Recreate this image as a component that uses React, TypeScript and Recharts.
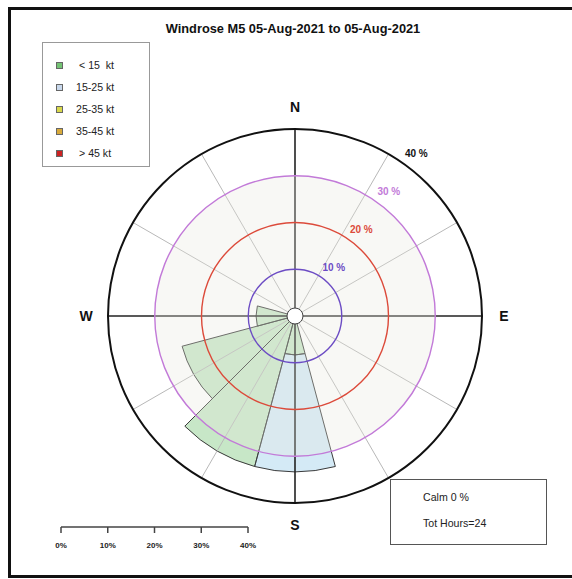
import React from 'react';
import { RadialBarChart, RadialBar, Cell, PolarAngleAxis, PolarRadiusAxis, LineChart, Line, XAxis } from 'recharts';

// wind directions, 30 degree sectors, clockwise from north
const directions = ['N', '30', '60', 'E', '120', '150', 'S', '210', '240', 'W', '300', '330'];
const compassLabels = ['N', 'E', 'S', 'W'];

// percentage of hours per speed bin and sector
const below15 = [0, 0, 0, 0, 0, 0, 8.33, 33.33, 25, 8.33, 0, 0];
const from15to25 = [0, 0, 0, 0, 0, 0, 25, 0, 0, 0, 0, 0];
const from25to35 = [0, 0, 0, 0, 0, 0, 0, 0, 0, 0, 0, 0];
const from35to45 = [0, 0, 0, 0, 0, 0, 0, 0, 0, 0, 0, 0];
const above45 = [0, 0, 0, 0, 0, 0, 0, 0, 0, 0, 0, 0];

const speedBins = ['< 15  kt', '15-25 kt', '25-35 kt', '35-45 kt', '> 45 kt'];
const speedKeys = ['b15', 'b25', 'b35', 'b45', 'b99'];
const speedFills = ['#8fd08f', '#a9d6ee', '#e2e24a', '#e0a93a', '#d42a2a'];
const legendColors = ['#74c374', '#c8d8ec', '#d8d84a', '#d9aa3a', '#cc2222'];

const ringTicks = [0, 10, 20, 30, 40];
const ringLabels = ['', '10 %', '20 %', '30 %', '40 %'];
const ringColors = ['#444', '#6c4cc4', '#dc4a3a', '#c27ad8', '#111'];

const scaleTicks = [0, 10, 20, 30, 40];
const scaleData = [{ pct: 0, y: 0 }, { pct: 40, y: 0 }];

const calmPct = 0;
const totHours = 24;

const CX = 295;
const CY = 316;
const R = 187;
const RAD = Math.PI / 180;
const HALF_SECTOR = 360 / directions.length / 2;
const FONT = '"Liberation Sans", Arial, sans-serif';

const series = [below15, from15to25, from25to35, from35to45, above45];
const roseData = directions.map((dir, i) => {
  const row: Record<string, string | number> = { dir };
  speedKeys.forEach((k, s) => { row[k] = series[s][i]; });
  return row;
});

const polar = (r: number, angle: number) => ({
  x: CX + r * Math.cos(-angle * RAD),
  y: CY + r * Math.sin(-angle * RAD),
});

// angle ticks sit on the sector edge; spokes go through the sector middle
const SpokeTick = (props: any) => {
  const { payload } = props;
  const angle = payload.coordinate + HALF_SECTOR;
  const end = polar(R, angle);
  const major = compassLabels.includes(payload.value);
  const lab = polar(209, angle);
  return (
    <g>
      <line x1={CX} y1={CY} x2={end.x} y2={end.y} stroke={major ? '#222' : '#b8b8b8'} strokeWidth={major ? 1.6 : 1} />
      {major && (
        <text x={lab.x} y={lab.y} textAnchor="middle" dominantBaseline="central" fontFamily={FONT} fontWeight="bold" fontSize={14} fill="#111">
          {payload.value}
        </text>
      )}
    </g>
  );
};

const RingTick = (props: any) => {
  const { payload, index } = props;
  const r = payload.coordinate;
  if (index === 0) {
    // faint disc inside the 30 % ring, drawn first so rings stay on top
    const tintR = (R * ringTicks[3]) / ringTicks[4];
    return <circle cx={CX} cy={CY} r={tintR} fill="#e9e7df" fillOpacity={0.3} stroke="none" />;
  }
  return (
    <g>
      <circle cx={CX} cy={CY} r={r} fill="none" stroke={ringColors[index]} strokeWidth={index === 4 ? 2 : 1.4} />
      <text x={CX + r * Math.sin(36 * RAD)} y={CY - r * Math.cos(36 * RAD) - 11} dominantBaseline="central" fontFamily={FONT} fontWeight="bold" fontSize={10} fill={ringColors[index]}>
        {ringLabels[index]}
      </text>
      {index === 4 && <circle cx={CX} cy={CY} r={8} fill="#fff" stroke="#444" strokeWidth={1} />}
    </g>
  );
};

export default function App() {
  return (
    <div style={{ position: 'absolute', left: 0, top: 0, width: 572, height: 579, background: '#fff', fontFamily: FONT }}>
      <div style={{ position: 'absolute', left: 8, top: 7, width: 580, height: 565, borderTop: '3px solid #111', borderLeft: '3px solid #111', borderBottom: '3px solid #111' }} />
      <div style={{ position: 'absolute', left: 0, top: 21, width: 586, textAlign: 'center', fontWeight: 'bold', fontSize: 12.8, color: '#111' }}>
        Windrose M5 05-Aug-2021 to 05-Aug-2021
      </div>

      <div style={{ position: 'absolute', left: 0, top: 0 }}>
        <RadialBarChart
          width={572}
          height={579}
          data={roseData}
          layout="centric"
          cx={CX}
          cy={CY}
          innerRadius={0}
          outerRadius={R}
          startAngle={90 - HALF_SECTOR}
          endAngle={90 - HALF_SECTOR - 360}
          barCategoryGap={0}
          barGap={0}
          margin={{ top: 0, right: 0, bottom: 0, left: 0 }}
        >
          <PolarAngleAxis dataKey="dir" type="category" axisLine={false} tickLine={false} tick={<SpokeTick />} />
          {speedKeys.map((k, s) => (
            <RadialBar
              key={k}
              dataKey={k}
              stackId="speed"
              fill={speedFills[s]}
              fillOpacity={0.5}
              strokeWidth={1}
              isAnimationActive={false}
            >
              {series[s].map((v, i) => (
                <Cell key={i} stroke={v > 0 ? '#3a3a3a' : 'none'} fill={v > 0 ? speedFills[s] : 'none'} />
              ))}
            </RadialBar>
          ))}
          <PolarRadiusAxis type="number" domain={[0, 40]} ticks={ringTicks} tickCount={5} angle={60} axisLine={false} tickLine={false} tick={<RingTick />} />
        </RadialBarChart>
      </div>

      <div style={{ position: 'absolute', left: 42, top: 42, width: 106, height: 123, border: '1.5px solid #999', background: '#fff' }}>
        {speedBins.map((b, i) => (
          <div key={b} style={{ position: 'absolute', left: 13, top: 16 + i * 22, height: 12, display: 'flex', alignItems: 'center' }}>
            <span style={{ width: 5, height: 5, background: legendColors[i], border: '1px solid #666', display: 'inline-block' }} />
            <span style={{ marginLeft: i === 0 || i === 4 ? 16 : 13, fontSize: 10.6, color: '#222', whiteSpace: 'pre' }}>{b}</span>
          </div>
        ))}
      </div>

      <div style={{ position: 'absolute', left: 390, top: 479, width: 155, height: 64, border: '1.5px solid #555', background: '#fff' }}>
        <div style={{ position: 'absolute', left: 32, top: 11, fontSize: 10.6, color: '#222' }}>Calm {calmPct} %</div>
        <div style={{ position: 'absolute', left: 32, top: 37, fontSize: 10.6, color: '#222' }}>Tot Hours={totHours}</div>
      </div>

      <div style={{ position: 'absolute', left: 46, top: 517 }}>
        <LineChart width={217} height={40} data={scaleData} margin={{ top: 0, right: 15, bottom: 0, left: 15 }}>
          <XAxis
            dataKey="pct"
            type="number"
            domain={[0, 40]}
            ticks={scaleTicks}
            height={30}
            stroke="#444"
            strokeWidth={1.5}
            tickSize={6}
            tickMargin={9}
            tickFormatter={(v: number) => `${v}%`}
            tick={{ fontSize: 8, fontWeight: 'bold', fill: '#222', stroke: 'none', fontFamily: FONT }}
          />
          <Line dataKey="y" stroke="none" dot={false} isAnimationActive={false} />
        </LineChart>
      </div>
    </div>
  );
}
